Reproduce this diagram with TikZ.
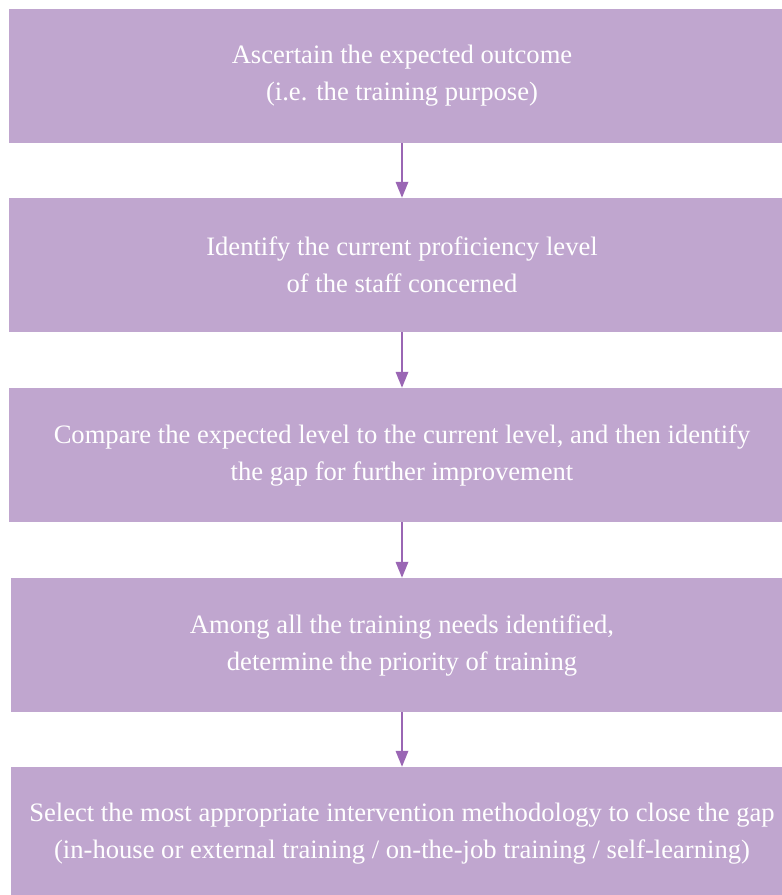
\documentclass[tikz,border=0pt]{standalone}
\usepackage{fontspec}
\setmainfont{Liberation Serif}
\usetikzlibrary{arrows.meta}
\definecolor{boxfill}{HTML}{C0A6CF}
\definecolor{arrowcol}{HTML}{9A66B4}

\begin{document}
\begin{tikzpicture}[x=1pt,y=-1pt,
	stepbox/.style={fill=boxfill, text=white, align=center, inner sep=0pt,
		minimum width=786pt, minimum height=134pt,
		font=\fontsize{26.6}{37}\selectfont},
	flow/.style={draw=arrowcol, line width=1.8pt, -{Triangle[width=12.5pt,length=16pt]}}]
		\useasboundingbox (0,0) rectangle (782,895);
		\clip (0,0) rectangle (782,895);

		\node[stepbox] (s1) at (402,76) {Ascertain the expected outcome\\(i.e. the training purpose)};
		\node[stepbox] (s2) at (402,265) {Identify the current proficiency level\\of the staff concerned};
		\node[stepbox] (s3) at (402,455) {Compare the expected level to the current level, and then identify\\the gap for further improvement};
		\node[stepbox, minimum width=782pt] (s4) at (402,645) {Among all the training needs identified,\\determine the priority of training};
		\node[stepbox, minimum width=782pt] (s5) at (402,834) {Select the most appropriate intervention methodology to close the gap\\(in-house or external training / on-the-job training / self-learning)};

		\draw[flow] (s1) -- (s2);
		\draw[flow] (s2) -- (s3);
		\draw[flow] (s3) -- (s4);
		\draw[flow] (s4) -- (s5);

	\end{tikzpicture}
\end{document}
